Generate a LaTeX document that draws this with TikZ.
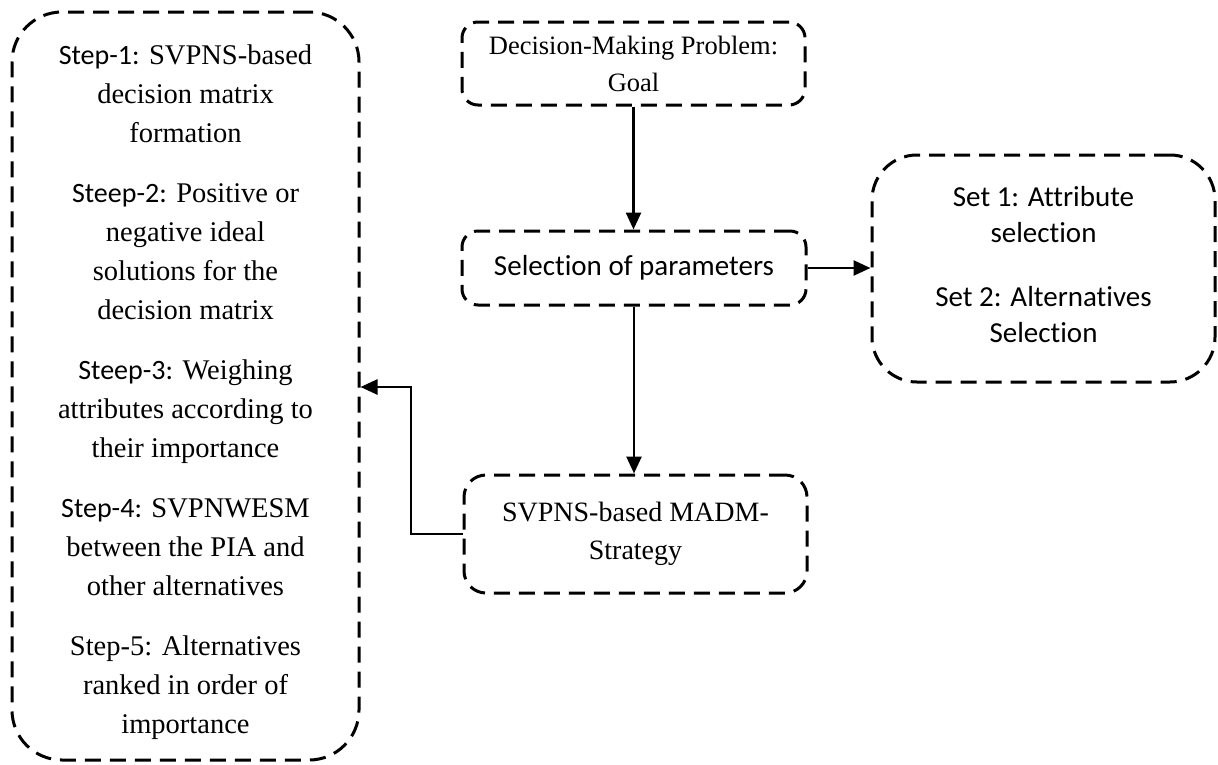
\documentclass[tikz,border=0pt]{standalone}
\usepackage{fontspec}
\setmainfont{Liberation Serif}
\newfontfamily\calib[Ligatures=NoCommon]{Carlito}
\usetikzlibrary{arrows.meta}

\tikzset{
	dashbox/.style={draw,line width=3pt,dash pattern=on 16pt off 9pt,align=center,inner sep=0pt},
	conn/.style={line width=2.6pt,-{Triangle[length=17pt,width=15pt]}},
}
\newcommand{\stepname}[1]{{\calib\fontsize{28}{39}\selectfont #1}}

\begin{document}
\begin{tikzpicture}[x=1pt,y=-1pt]
	\useasboundingbox (0,0) rectangle (1218,764);

	% left column with the steps
	\node[dashbox,rounded corners=50pt,minimum width=347pt,minimum height=748pt,font=\fontsize{28.5}{39}\selectfont] (steps) at (185.5,386)
		{\rule{0pt}{33pt}\stepname{Step-1:} SVPNS-based\\ decision matrix\\ formation\\[21pt]
		 \stepname{Steep-2:} Positive or\\ negative ideal\\ solutions for the\\ decision matrix\\[21pt]
		 \stepname{Steep-3:} Weighing\\ attributes according to\\ their importance\\[21pt]
		 \stepname{Step-4:} SVPNWESM\\ between the PIA and\\ other alternatives\\[21pt]
		 Step-5: Alternatives\\ ranked in order of\\ importance};

	% middle column
	\node[dashbox,rounded corners=16pt,minimum width=343pt,minimum height=83pt,font=\fontsize{26.5}{37}\selectfont] (goal) at (633.5,63.5)
		{Decision-Making Problem:\\ Goal};
	\node[dashbox,rounded corners=16pt,minimum width=344pt,minimum height=74pt,font=\calib\fontsize{29}{35}\selectfont] (param) at (634,268)
		{Selection of parameters};
	\node[dashbox,rounded corners=22pt,minimum width=343pt,minimum height=118pt,font=\fontsize{28}{38}\selectfont] (madm) at (635.5,534)
		{SVPNS-based MADM-\\ Strategy};

	% right column
	\node[dashbox,rounded corners=45pt,minimum width=343pt,minimum height=227pt,font=\calib\fontsize{29}{36}\selectfont] (sets) at (1043.5,268.5)
		{Set 1: Attribute\\ selection\\[28pt] Set 2: Alternatives\\ Selection\rule[-9pt]{0pt}{1pt}};

	\coordinate (bend) at (411,387);

	\draw[conn] (goal.south) -- (goal.south |- param.north);
	\draw[conn] (param.south) -- (param.south |- madm.north);
	\draw[conn] (param.east) -- (param.east -| sets.west);
	\draw[conn] (madm.west) -| (bend) -- (bend -| steps.east);
\end{tikzpicture}
\end{document}
